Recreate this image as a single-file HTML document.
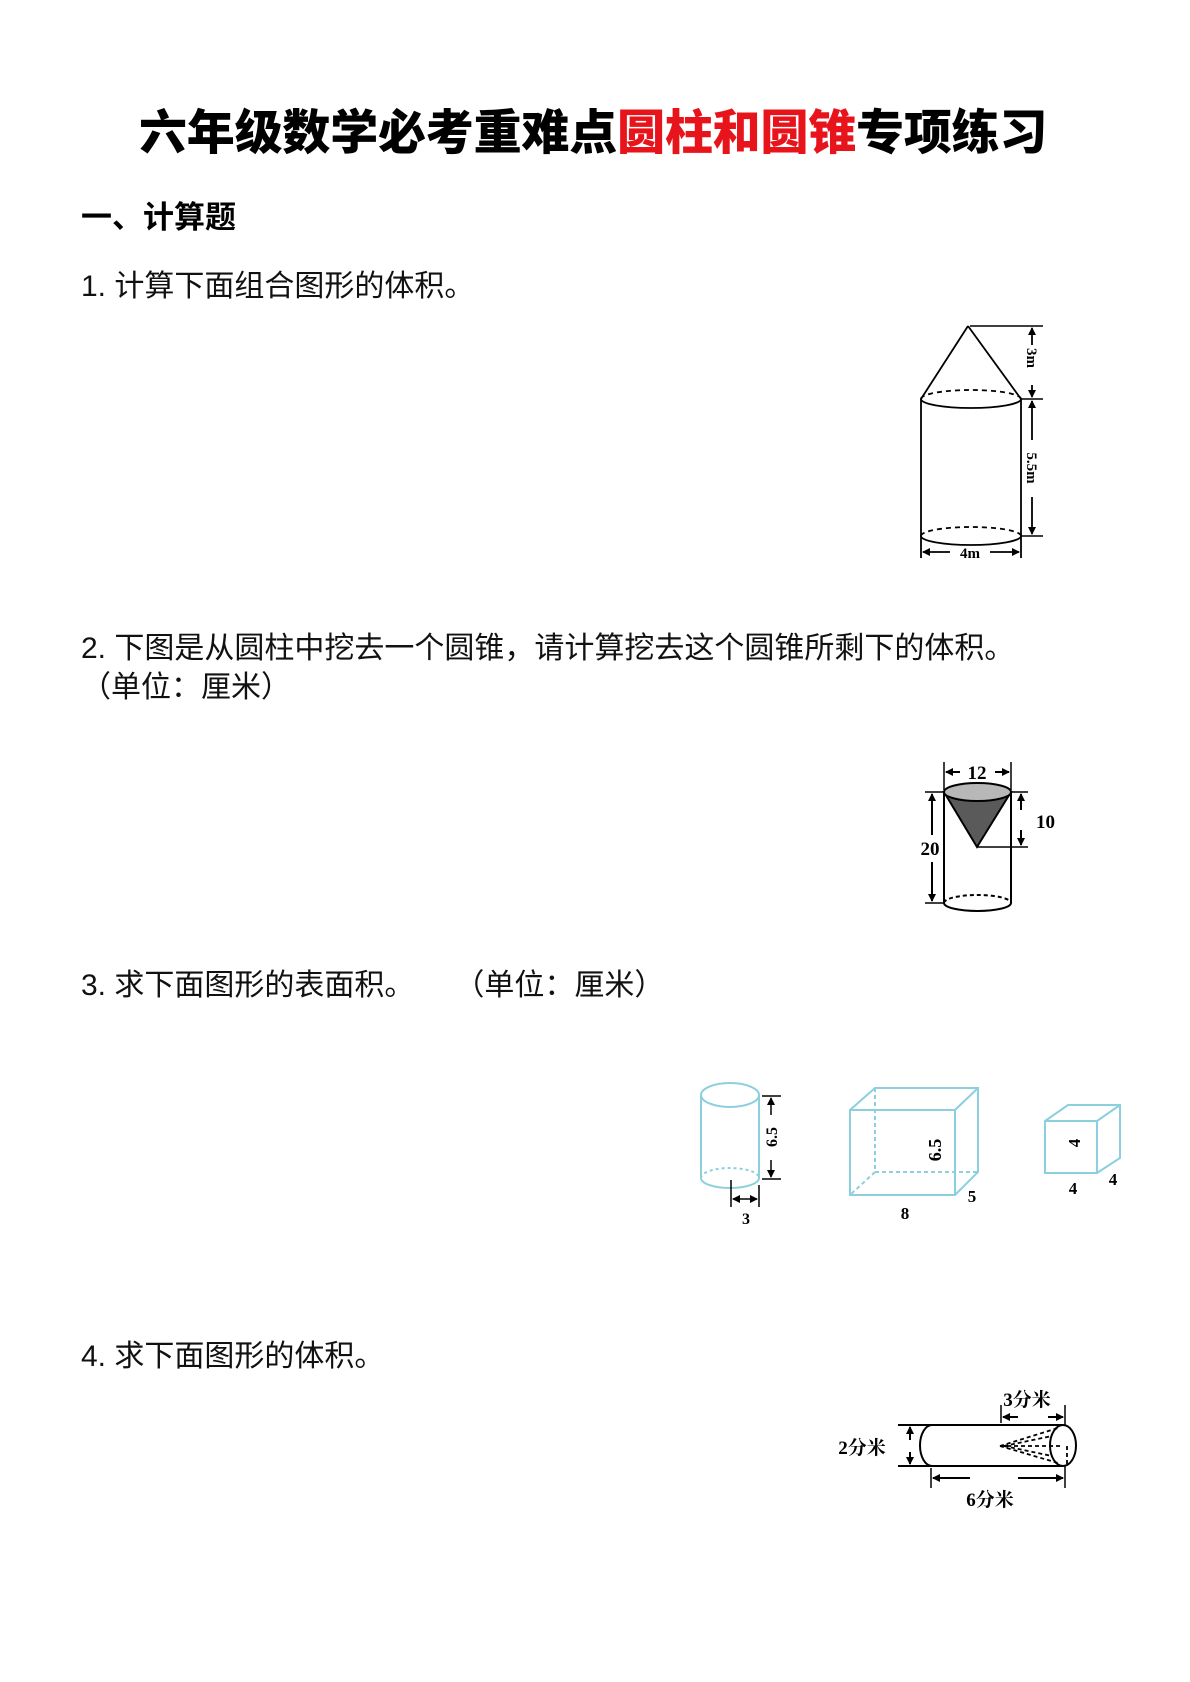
<!DOCTYPE html>
<html><head><meta charset="utf-8"><style>
html,body{margin:0;padding:0;background:#fff;}
body{width:1190px;height:1682px;position:relative;overflow:hidden;font-family:"Liberation Sans","Noto Sans CJK SC",sans-serif;}
.t{position:absolute;white-space:nowrap;line-height:1;}
.q{font-size:30px;color:#111;left:81px;}
svg{position:absolute;left:0;top:0;}
svg text{font-family:"Liberation Serif","Noto Serif CJK SC",serif;font-weight:bold;}
</style></head><body>
<div class="t" style="left:139px;top:110px;font-size:48px;font-weight:900;color:#000;letter-spacing:-0.2px">六年级数学必考重难点<span style="color:#e8141c">圆柱和圆锥</span>专项练习</div>
<div class="t" style="left:81px;top:202px;font-size:31px;font-weight:bold;">一、计算题</div>
<div class="t q" style="top:272px">1. 计算下面组合图形的体积。</div>
<div class="t q" style="top:634px">2. 下图是从圆柱中挖去一个圆锥，请计算挖去这个圆锥所剩下的体积。</div>
<div class="t q" style="top:673px">（单位：厘米）</div>
<div class="t q" style="top:971px">3. 求下面图形的表面积。<span style="display:inline-block;width:40px"></span>（单位：厘米）</div>
<div class="t q" style="top:1342px">4. 求下面图形的体积。</div>

<svg width="1190" height="1682" viewBox="0 0 1190 1682">
<defs>
<marker id="a" markerWidth="8" markerHeight="8" refX="7" refY="4" orient="auto" markerUnits="userSpaceOnUse"><path d="M0,0 L8,4 L0,8z" fill="#000"/></marker>
</defs>
<!-- Fig 1 -->
<g stroke="#000" stroke-width="1.8" fill="none">
<line x1="968" y1="326" x2="921" y2="399"/><line x1="968" y1="326" x2="1021" y2="399"/>
<path d="M921,399 A50,9 0 0 0 1021,399"/><path d="M921,399 A50,9 0 0 1 1021,399" stroke-dasharray="5,4"/>
<line x1="921" y1="399" x2="921" y2="558"/><line x1="1021" y1="399" x2="1021" y2="558"/>
<path d="M921,536 A50,9 0 0 0 1021,536"/><path d="M921,536 A50,9 0 0 1 1021,536" stroke-dasharray="5,4"/>
<line x1="970" y1="326" x2="1043" y2="326" stroke-width="1.5"/><line x1="1021" y1="399" x2="1043" y2="399" stroke-width="1.5"/><line x1="1021" y1="536" x2="1043" y2="536" stroke-width="1.5"/>
<line x1="1032" y1="345" x2="1032" y2="328" marker-end="url(#a)"/>
<line x1="1032" y1="385" x2="1032" y2="397" marker-end="url(#a)"/>
<line x1="1032" y1="440" x2="1032" y2="401" marker-end="url(#a)"/>
<line x1="1032" y1="497" x2="1032" y2="534" marker-end="url(#a)"/>
<line x1="950" y1="552" x2="923" y2="552" marker-end="url(#a)"/>
<line x1="990" y1="552" x2="1019" y2="552" marker-end="url(#a)"/>
</g>
<text x="0" y="0" font-size="15" transform="translate(1027,358) rotate(90)" text-anchor="middle">3m</text>
<text x="0" y="0" font-size="15" transform="translate(1027,468) rotate(90)" text-anchor="middle">5.5m</text>
<text x="970" y="558" font-size="15" text-anchor="middle">4m</text>

<!-- Fig 2 -->
<g stroke="#000" stroke-width="2" fill="none">
<path d="M944,792 L977,847 L1011,792z" fill="#5a5a5a"/>
<ellipse cx="977.5" cy="792" rx="33.5" ry="9" fill="#b8b8b8"/>
<line x1="944" y1="792" x2="944" y2="903"/><line x1="1011" y1="792" x2="1011" y2="903"/>
<path d="M944,903 A33.5,8 0 0 0 1011,903"/><path d="M944,903 A33.5,8 0 0 1 1011,903" stroke-dasharray="4,3"/>
<line x1="944" y1="762" x2="944" y2="790" stroke-width="1.5"/><line x1="1011" y1="762" x2="1011" y2="790" stroke-width="1.5"/>
<line x1="960" y1="772" x2="946" y2="772" marker-end="url(#a)"/><line x1="995" y1="772" x2="1009" y2="772" marker-end="url(#a)"/>
<line x1="925" y1="792" x2="944" y2="792" stroke-width="1.5"/><line x1="925" y1="903" x2="944" y2="903" stroke-width="1.5"/>
<line x1="932" y1="835" x2="932" y2="794" marker-end="url(#a)"/><line x1="932" y1="862" x2="932" y2="901" marker-end="url(#a)"/>
<line x1="1011" y1="792" x2="1028" y2="792" stroke-width="1.5"/><line x1="977" y1="847" x2="1028" y2="847" stroke-width="1.5"/>
<line x1="1021" y1="810" x2="1021" y2="794" marker-end="url(#a)"/><line x1="1021" y1="830" x2="1021" y2="845" marker-end="url(#a)"/>
</g>
<text x="977" y="779" font-size="19" text-anchor="middle" font-weight="normal">12</text>
<text x="930" y="855" font-size="19" text-anchor="middle">20</text>
<text x="1036" y="828" font-size="19" text-anchor="start">10</text>

<!-- Fig 3 -->
<g stroke="#8ccfdf" stroke-width="2" fill="none">
<ellipse cx="730" cy="1095" rx="29" ry="12"/>
<line x1="701" y1="1095" x2="701" y2="1178"/><line x1="759" y1="1095" x2="759" y2="1178"/>
<path d="M701,1178 A29,10 0 0 0 759,1178"/><path d="M701,1178 A29,10 0 0 1 759,1178" stroke-dasharray="3,3"/>
<rect x="850" y="1110" width="105" height="85"/>
<path d="M850,1110 L875,1088 L978,1088 L978,1172 L955,1195 M955,1110 L978,1088"/>
<path d="M875,1088 L875,1172 L978,1172 M875,1172 L850,1195" stroke-dasharray="4,3"/>
<rect x="1045" y="1121" width="52" height="52"/>
<path d="M1045,1121 L1068,1105 L1120,1105 L1120,1158 L1097,1173 M1097,1121 L1120,1105"/>
</g>
<g stroke="#000" stroke-width="1.5" fill="none">
<line x1="762" y1="1096" x2="781" y2="1096"/><line x1="762" y1="1179" x2="781" y2="1179"/>
<line x1="771" y1="1115" x2="771" y2="1098" marker-end="url(#a)"/><line x1="771" y1="1160" x2="771" y2="1177" marker-end="url(#a)"/>
<line x1="731" y1="1180" x2="731" y2="1207"/><line x1="759" y1="1185" x2="759" y2="1207"/>
<line x1="745" y1="1199" x2="733" y2="1199" marker-end="url(#a)"/><line x1="745" y1="1199" x2="757" y2="1199" marker-end="url(#a)"/>
</g>
<text font-size="16" transform="translate(777,1137) rotate(-90)" text-anchor="middle">6.5</text>
<text x="746" y="1224" font-size="16" text-anchor="middle">3</text>
<text font-size="18" transform="translate(941,1150) rotate(-90)" text-anchor="middle">6.5</text>
<text x="905" y="1219" font-size="17" text-anchor="middle">8</text>
<text x="972" y="1202" font-size="17" text-anchor="middle">5</text>
<text font-size="17" transform="translate(1080,1143) rotate(-90)" text-anchor="middle">4</text>
<text x="1073" y="1194" font-size="17" text-anchor="middle">4</text>
<text x="1113" y="1185" font-size="17" text-anchor="middle">4</text>

<!-- Fig 4 -->
<g stroke="#000" stroke-width="2" fill="none">
<line x1="898" y1="1425" x2="1063" y2="1425"/><line x1="898" y1="1466" x2="1063" y2="1466"/>
<path d="M932,1425 A12,20.5 0 0 0 932,1466"/>
<ellipse cx="1063" cy="1445.5" rx="13" ry="20.5"/>
<g stroke-dasharray="4,3" stroke-width="1.8"><line x1="1000" y1="1446" x2="1058" y2="1428"/><line x1="1000" y1="1446" x2="1058" y2="1463"/><line x1="1000" y1="1446" x2="1063" y2="1446"/><line x1="1004" y1="1446" x2="1052" y2="1436"/><line x1="1004" y1="1446" x2="1052" y2="1456"/><line x1="1067" y1="1446" x2="1067" y2="1466"/></g>
<line x1="910" y1="1440" x2="910" y2="1427" marker-end="url(#a)"/><line x1="910" y1="1452" x2="910" y2="1464" marker-end="url(#a)"/>
<line x1="1001" y1="1405" x2="1001" y2="1423" stroke-width="1.5"/><line x1="1065" y1="1405" x2="1065" y2="1425" stroke-width="1.5"/>
<line x1="1018" y1="1417" x2="1003" y2="1417" marker-end="url(#a)"/><line x1="1048" y1="1417" x2="1063" y2="1417" marker-end="url(#a)"/>
<line x1="931" y1="1468" x2="931" y2="1488" stroke-width="1.5"/><line x1="1065" y1="1466" x2="1065" y2="1488" stroke-width="1.5"/>
<line x1="970" y1="1478" x2="933" y2="1478" marker-end="url(#a)"/><line x1="1018" y1="1478" x2="1063" y2="1478" marker-end="url(#a)"/>
</g>
<text x="862" y="1454" font-size="19" text-anchor="middle" font-family="Liberation Sans,Noto Sans CJK SC,sans-serif">2分米</text>
<text x="1027" y="1406" font-size="19" text-anchor="middle" font-family="Liberation Sans,Noto Sans CJK SC,sans-serif">3分米</text>
<text x="990" y="1506" font-size="19" text-anchor="middle" font-family="Liberation Sans,Noto Sans CJK SC,sans-serif">6分米</text>
</svg>
</body></html>
